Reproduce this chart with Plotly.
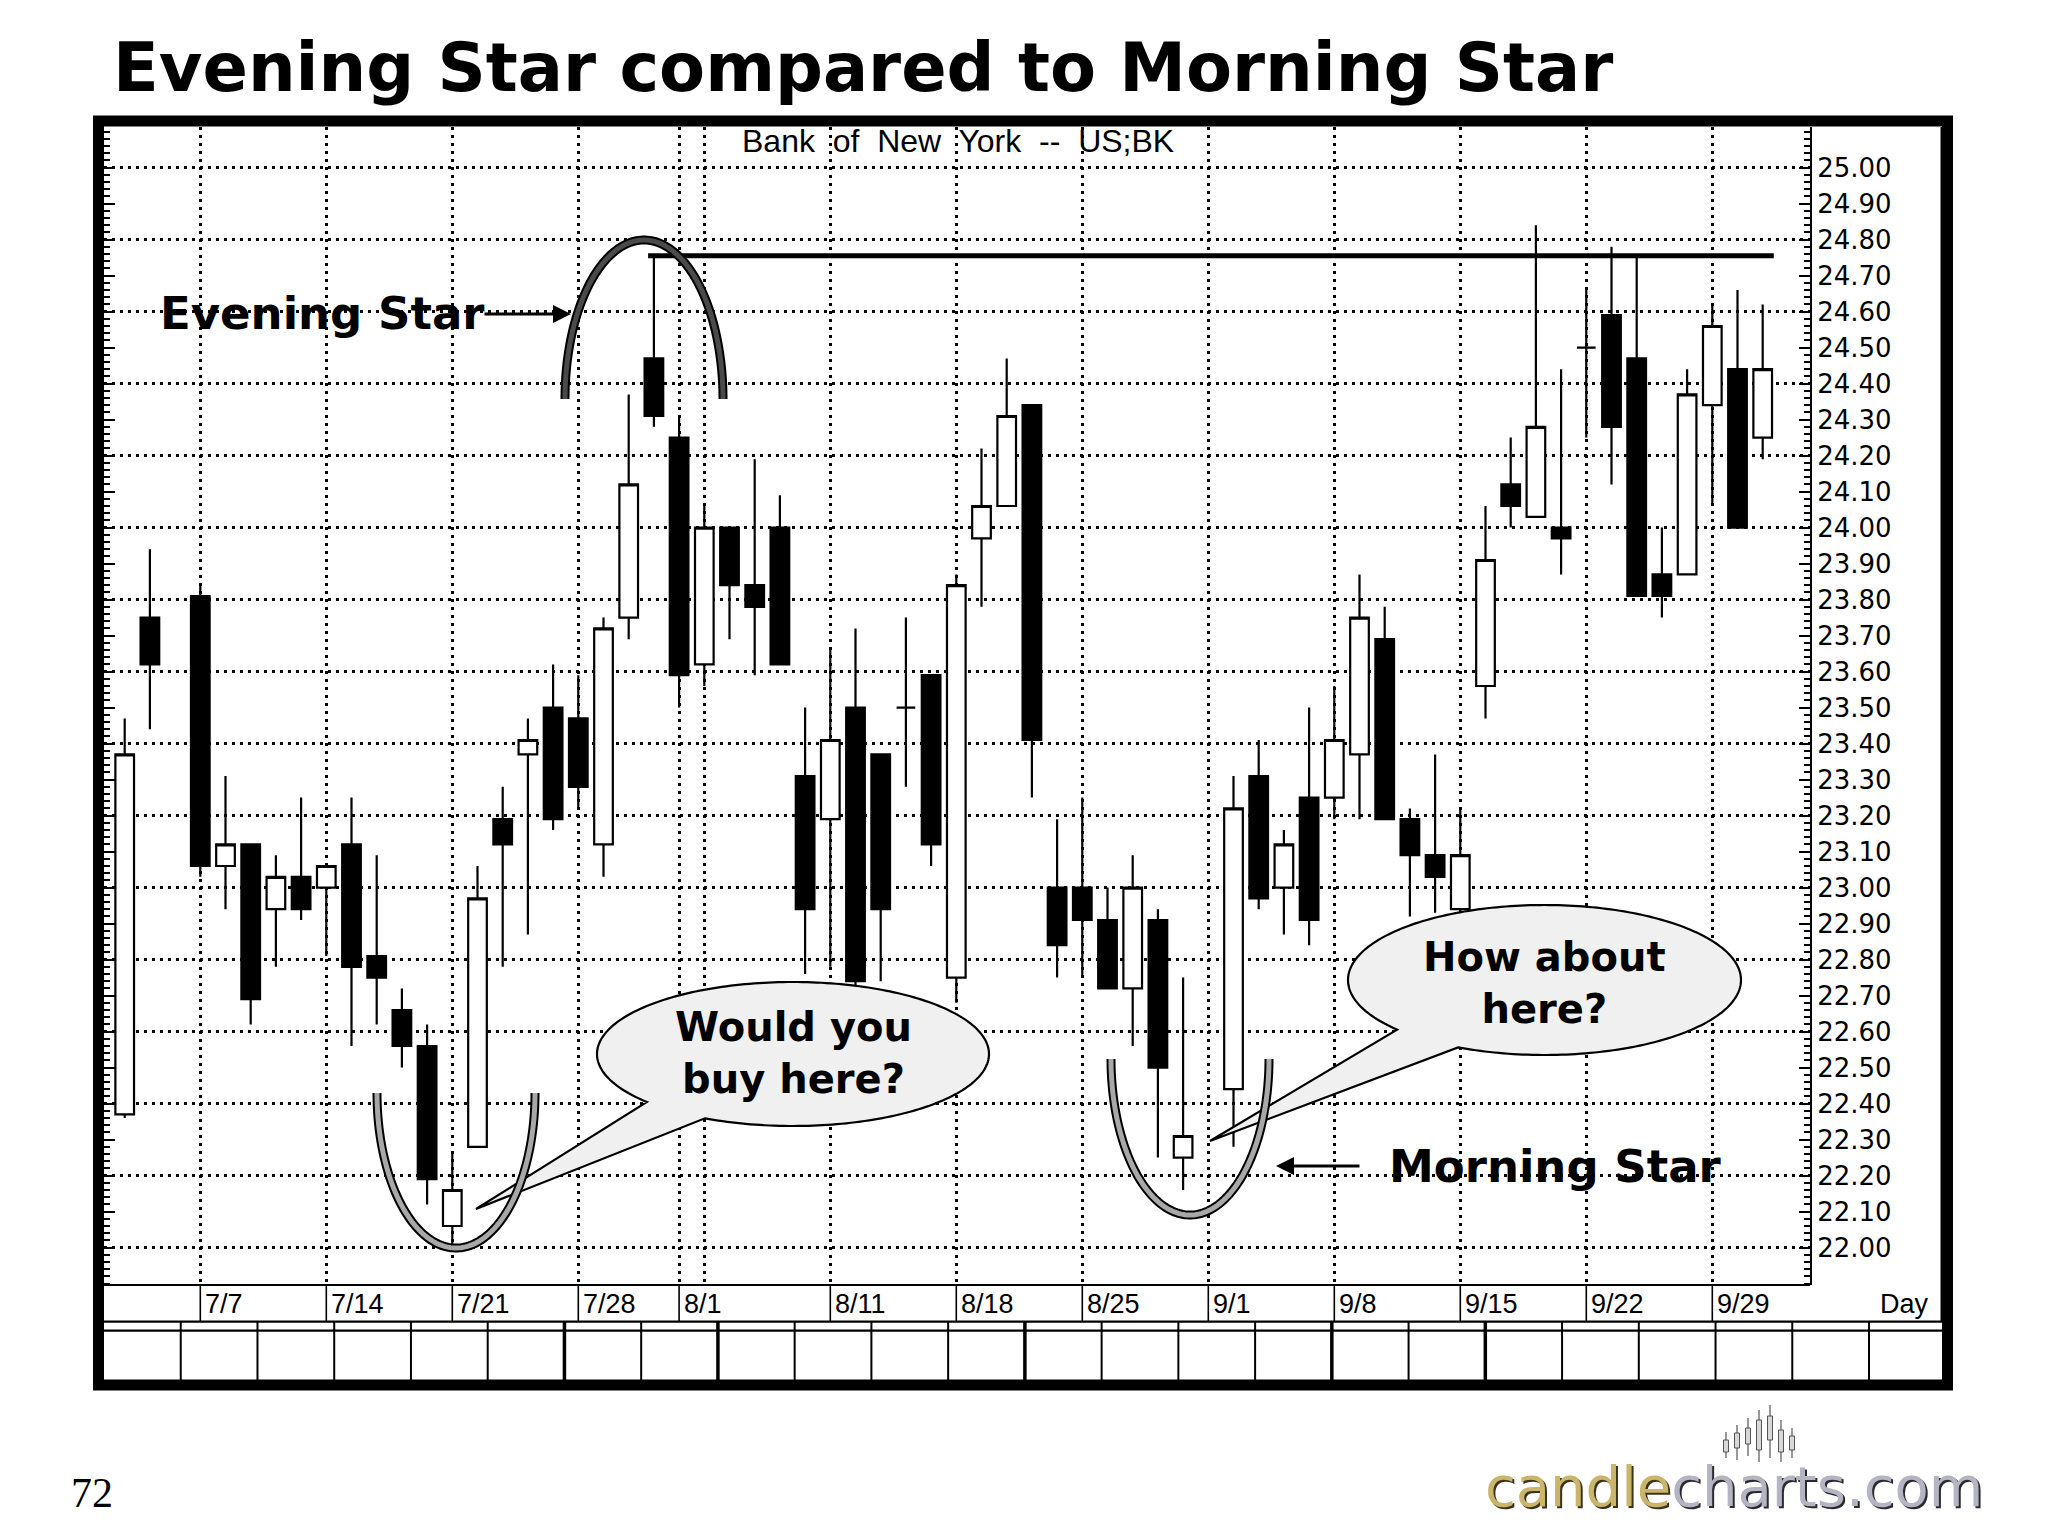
import numpy as np
import plotly.graph_objects as go

# ---------------- data ----------------
dates = ["2003-07-02", "2003-07-03", "2003-07-07", "2003-07-08", "2003-07-09", "2003-07-10",
         "2003-07-11", "2003-07-14", "2003-07-15", "2003-07-16", "2003-07-17", "2003-07-18",
         "2003-07-21", "2003-07-22", "2003-07-23", "2003-07-24", "2003-07-25", "2003-07-28",
         "2003-07-29", "2003-07-30", "2003-07-31", "2003-08-01", "2003-08-04", "2003-08-05",
         "2003-08-06", "2003-08-07", "2003-08-08", "2003-08-11", "2003-08-12", "2003-08-13",
         "2003-08-14", "2003-08-15", "2003-08-18", "2003-08-19", "2003-08-20", "2003-08-21",
         "2003-08-22", "2003-08-25", "2003-08-26", "2003-08-27", "2003-08-28", "2003-08-29",
         "2003-09-02", "2003-09-03", "2003-09-04", "2003-09-05", "2003-09-08", "2003-09-09",
         "2003-09-10", "2003-09-11", "2003-09-12", "2003-09-15", "2003-09-16", "2003-09-17",
         "2003-09-18", "2003-09-19", "2003-09-22", "2003-09-23", "2003-09-24", "2003-09-25",
         "2003-09-26", "2003-09-29", "2003-09-30", "2003-10-01"]
opens = [22.37, 23.75, 23.81, 23.06, 23.12, 22.94, 23.03, 23.00, 23.12, 22.81, 22.66, 22.56,
         22.06, 22.28, 23.19, 23.37, 23.50, 23.47, 23.12, 23.75, 24.47, 24.25, 23.62, 24.00,
         23.84, 24.00, 23.31, 23.19, 23.50, 23.37, 23.50, 23.59, 22.75, 23.97, 24.06, 24.34,
         23.00, 23.00, 22.91, 22.72, 22.91, 22.25, 22.44, 23.31, 23.00, 23.25, 23.25, 23.37,
         23.69, 23.19, 23.09, 22.94, 23.56, 24.12, 24.03, 24.00, 24.50, 24.59, 24.47, 23.87,
         23.87, 24.34, 24.44, 24.25]
highs = [23.47, 23.94, 23.84, 23.31, 23.12, 23.09, 23.25, 23.06, 23.25, 23.09, 22.72, 22.62,
         22.26, 23.06, 23.28, 23.47, 23.62, 23.59, 23.75, 24.37, 24.755, 24.31, 24.06, 24.00,
         24.19, 24.09, 23.50, 23.66, 23.72, 23.37, 23.75, 23.59, 23.87, 24.22, 24.47, 24.34,
         23.19, 23.25, 23.00, 23.09, 22.94, 22.75, 23.31, 23.41, 23.16, 23.50, 23.56, 23.87,
         23.78, 23.22, 23.37, 23.22, 24.06, 24.25, 24.84, 24.44, 24.66, 24.78, 24.75, 24.00,
         24.44, 24.62, 24.66, 24.62]
lows = [22.36, 23.44, 23.03, 22.94, 22.62, 22.78, 22.91, 22.81, 22.56, 22.62, 22.50, 22.12,
        22.01, 22.28, 22.78, 22.87, 23.16, 23.22, 23.03, 23.69, 24.28, 23.50, 23.56, 23.69,
        23.59, 23.62, 22.76, 22.78, 22.72, 22.74, 23.28, 23.06, 22.68, 23.78, 24.06, 23.25,
        22.75, 22.75, 22.72, 22.56, 22.25, 22.16, 22.28, 22.94, 22.87, 22.84, 23.19, 23.19,
        23.19, 22.92, 22.93, 22.93, 23.47, 24.00, 24.03, 23.87, 24.25, 24.12, 23.81, 23.75,
        23.87, 24.06, 24.00, 24.19]
closes = [23.37, 23.62, 23.06, 23.12, 22.69, 23.03, 22.94, 23.06, 22.78, 22.75, 22.56, 22.19,
          22.16, 22.97, 23.12, 23.41, 23.19, 23.28, 23.72, 24.12, 24.31, 23.59, 24.00, 23.84,
          23.78, 23.62, 22.94, 23.41, 22.74, 22.94, 23.50, 23.12, 23.84, 24.06, 24.31, 23.41,
          22.84, 22.91, 22.72, 23.00, 22.50, 22.31, 23.22, 22.97, 23.12, 22.91, 23.41, 23.75,
          23.19, 23.09, 23.03, 23.09, 23.91, 24.06, 24.28, 23.97, 24.50, 24.28, 23.81, 23.81,
          24.37, 24.56, 24.00, 24.44]

grid_dates = ["2003-07-07", "2003-07-14", "2003-07-21", "2003-07-28", "2003-08-01", "2003-08-04",
              "2003-08-11", "2003-08-18", "2003-08-25", "2003-09-01", "2003-09-08", "2003-09-15",
              "2003-09-22", "2003-09-29"]
grid_labels = ["7/7", "7/14", "7/21", "7/28", "8/1", "", "8/11", "8/18", "8/25", "9/1",
               "9/8", "9/15", "9/22", "9/29"]

price_ticks = [round(22.0 + 0.1 * i, 2) for i in range(31)]
price_grid = [round(22.0 + 0.2 * i, 2) for i in range(16)]

TITLE = "Evening Star compared to Morning Star"
SUBTITLE = "Bank\u00a0 of\u00a0 New\u00a0 York\u00a0 --\u00a0 US;BK"
EVENING_DATE = "2003-07-31"

START = "2003-07-01"


def slot(d):
    return int(np.busday_count(START, d))


x_slots = [slot(d) for d in dates]
grid_slots = [slot(d) for d in grid_dates]

# ---------------- geometry (page pixels) ----------------
OFF = 8                                # default body margin of the html page
W, H = 2048 - OFF, 1536 - OFF
PL, PR, PT, PB = 104, 1810, 127, 1285  # plot area, page coordinates
SLOT0_PX, SLOT_W = 99.5, 25.2          # pixel position of slot 0, pixels per slot
P25_PX, PX_PER_1 = 167.6, 360.0        # pixel of price 25.00, pixels per 1.00

x_range = [(PL - SLOT0_PX) / SLOT_W, (PR - SLOT0_PX) / SLOT_W]
y_range = [25 - (PB - P25_PX) / PX_PER_1, 25 - (PT - P25_PX) / PX_PER_1]


def px(x):
    return (x - PL) / (PR - PL)


def py(y):
    return (PB - y) / (PB - PT)


def path_from(pts, close=False):
    s = "M " + " L ".join(f"{px(a):.5f},{py(b):.5f}" for a, b in pts)
    return s + (" Z" if close else "")


fig = go.Figure()

fig.add_trace(go.Candlestick(
    x=x_slots, open=opens, high=highs, low=lows, close=closes,
    increasing=dict(fillcolor="white", line=dict(color="black", width=2.2)),
    decreasing=dict(fillcolor="black", line=dict(color="black", width=2.2)),
    whiskerwidth=0, hoverinfo="skip", showlegend=False,
))
# invisible trace holding the secondary (grid) axis
fig.add_trace(go.Scatter(x=[x_slots[0]], y=[price_grid[0]], yaxis="y2", mode="markers",
                         marker=dict(size=1, opacity=0), hoverinfo="skip", showlegend=False))

shapes = []
annos = []

# white patch behind the chart caption (hides grid, below candles)
shapes.append(dict(type="rect", xref="paper", yref="paper", x0=px(722), x1=px(1195),
                   y0=py(158), y1=py(PT), fillcolor="white", line=dict(width=0), layer="between"))

# resistance line at the evening star high
ev_i = dates.index(EVENING_DATE)
shapes.append(dict(type="line", xref="x", yref="y", x0=x_slots[ev_i] - 0.23,
                   x1=x_slots[-1] + 0.44, y0=highs[ev_i], y1=highs[ev_i],
                   line=dict(color="black", width=5), layer="above"))


# speech bubbles (ellipse + wedge tail)
def bubble(cx, cy, rx, ry, tA, tB, tip):
    ts = np.radians(np.linspace(tB, tA - 360, 240))
    pts = [(cx + rx * np.cos(t), cy + ry * np.sin(t)) for t in ts]
    pts.append(tip)
    shapes.append(dict(type="path", xref="paper", yref="paper", path=path_from(pts, True),
                       fillcolor="#f0f0f0", line=dict(color="black", width=2.2), layer="above"))


bubble(793, 1054, 196, 72, 138.2, 116.7, (476, 1209))
bubble(1544.5, 980, 196.5, 75, 138.6, 116.1, (1210, 1141))


# arcs around the stars
def arc(cx, cy, rx, ry, upper, inner):
    ts = np.radians(np.linspace(180, 0, 120))
    sgn = -1 if upper else 1
    pts = [(cx + rx * np.cos(t), cy + sgn * ry * np.sin(t)) for t in ts]
    p = path_from(pts)
    shapes.append(dict(type="path", xref="paper", yref="paper", path=p,
                       line=dict(color="black", width=9), layer="above"))
    shapes.append(dict(type="path", xref="paper", yref="paper", path=p,
                       line=dict(color=inner, width=5), layer="above"))


arc(644, 399, 79, 159, True, "#4a4a4a")
arc(456, 1093, 79, 155, False, "#a8a8a8")
arc(1190, 1059, 79, 156, False, "#a8a8a8")

# frame pieces
shapes.append(dict(type="line", xref="paper", yref="paper", x0=px(PL), x1=px(PR),
                   y0=py(PB), y1=py(PB), line=dict(color="black", width=2), layer="above"))
for yy in (1321.7, 1330.7):
    shapes.append(dict(type="line", xref="paper", yref="paper", x0=px(PL), x1=px(1943),
                       y0=py(yy), y1=py(yy), line=dict(color="black", width=2.2), layer="above"))
shapes.append(dict(type="line", xref="paper", yref="paper", x0=px(1941.5), x1=px(1941.5),
                   y0=py(PT), y1=py(1321.7), line=dict(color="black", width=2), layer="above"))
thick_cols = {6, 8, 12, 16, 18}
for k in range(1, 24):
    xx = PL + 76.74 * k
    shapes.append(dict(type="line", xref="paper", yref="paper", x0=px(xx), x1=px(xx),
                       y0=py(1321.7), y1=py(1380), layer="above",
                       line=dict(color="black", width=3.5 if k in thick_cols else 2)))
# outer thick border
shapes.append(dict(type="rect", xref="paper", yref="paper", x0=px(98.5), x1=px(1947.5),
                   y0=py(121), y1=py(1385), line=dict(color="black", width=11), layer="above"))

# small candle glyph of the logo
glyph = [(1726, 1432, 1458, 1440, 1452), (1737, 1425, 1460, 1433, 1448), (1748, 1418, 1456, 1428, 1444),
         (1759, 1410, 1462, 1420, 1450), (1770, 1405, 1458, 1416, 1440), (1781, 1420, 1462, 1430, 1452),
         (1792, 1428, 1458, 1436, 1450)]
for gx, gt, gb, bt, bb in glyph:
    shapes.append(dict(type="line", xref="paper", yref="paper", x0=px(gx), x1=px(gx),
                       y0=py(gt), y1=py(gb), line=dict(color="#555555", width=1.2), layer="above"))
    shapes.append(dict(type="rect", xref="paper", yref="paper", x0=px(gx - 2.5), x1=px(gx + 2.5),
                       y0=py(bt), y1=py(bb), fillcolor="#d8d8d8",
                       line=dict(color="#555555", width=1), layer="above"))

# date labels and the cell lines under them
for s, lab in zip(grid_slots, grid_labels):
    if not lab:
        continue
    shapes.append(dict(type="line", xref="x", yref="paper", x0=s, x1=s, y0=py(PB), y1=py(1321.7),
                       line=dict(color="black", width=1.6), layer="above"))
    annos.append(dict(x=s, y=py(1304), xref="x", yref="paper", text=lab, showarrow=False,
                      xanchor="left", yanchor="middle", xshift=3,
                      font=dict(family="Liberation Sans, Arial", size=27, color="black")))
annos.append(dict(x=px(1878), y=py(1304), xref="paper", yref="paper", text="Day", showarrow=False,
                  xanchor="left", yanchor="middle",
                  font=dict(family="Liberation Sans, Arial", size=27, color="black")))

# titles
annos.append(dict(x=px(111), y=py(68), xref="paper", yref="paper", text=f"<b>{TITLE}</b>",
                  showarrow=False, xanchor="left", yanchor="middle",
                  font=dict(family="DejaVu Sans", size=67, color="black")))
annos.append(dict(x=px(958), y=py(141), xref="paper", yref="paper", text=SUBTITLE,
                  showarrow=False, xanchor="center", yanchor="middle",
                  font=dict(family="Liberation Sans, Arial", size=32, color="black")))

# pattern labels + arrows
annos.append(dict(x=px(158), y=py(314), xref="paper", yref="paper", text="<b>Evening Star</b>",
                  showarrow=False, xanchor="left", yanchor="middle",
                  font=dict(family="DejaVu Sans", size=45, color="black")))
annos.append(dict(x=px(571), y=py(314), xref="paper", yref="paper", text="", showarrow=True,
                  ax=-88, ay=0, arrowhead=2, arrowsize=1.2, arrowwidth=3, arrowcolor="black"))
annos.append(dict(x=px(1387), y=py(1166), xref="paper", yref="paper", text="<b>Morning Star</b>",
                  showarrow=False, xanchor="left", yanchor="middle",
                  font=dict(family="DejaVu Sans", size=45, color="black")))
annos.append(dict(x=px(1276), y=py(1166), xref="paper", yref="paper", text="", showarrow=True,
                  ax=85, ay=0, arrowhead=2, arrowsize=1.2, arrowwidth=3, arrowcolor="black"))

# bubble texts
annos.append(dict(x=px(793), y=py(1053), xref="paper", yref="paper",
                  text="<b>Would you<br>buy here?</b>", showarrow=False, align="center",
                  xanchor="center", yanchor="middle",
                  font=dict(family="DejaVu Sans", size=40, color="black")))
annos.append(dict(x=px(1544), y=py(983), xref="paper", yref="paper",
                  text="<b>How about<br>here?</b>", showarrow=False, align="center",
                  xanchor="center", yanchor="middle",
                  font=dict(family="DejaVu Sans", size=40, color="black")))

# page number and logo
annos.append(dict(x=px(92), y=py(1493), xref="paper", yref="paper", text="72", showarrow=False,
                  xanchor="center", yanchor="middle",
                  font=dict(family="Liberation Serif, Times New Roman", size=42, color="black")))
logo = "<span style='color:{c1}'>candle</span><span style='color:{c2}'>charts.com</span>"
annos.append(dict(x=px(1985), y=py(1486), xref="paper", yref="paper", xanchor="right",
                  yanchor="middle", text=logo.format(c1="#3a3320", c2="#2a2a30"), showarrow=False,
                  xshift=2, yshift=-2, font=dict(family="DejaVu Sans", size=56)))
annos.append(dict(x=px(1985), y=py(1486), xref="paper", yref="paper", xanchor="right",
                  yanchor="middle", text=logo.format(c1="#cbb56a", c2="#b4b4c2"), showarrow=False,
                  font=dict(family="DejaVu Sans", size=56)))

grid_dash = "3px,5px"
fig.update_layout(
    width=W, height=H, autosize=False,
    margin=dict(l=PL - OFF, r=W - (PR - OFF), t=PT - OFF, b=H - (PB - OFF), pad=0),
    paper_bgcolor="white", plot_bgcolor="white",
    showlegend=False, hovermode=False,
    boxgap=0.26, boxgroupgap=0,
    xaxis=dict(range=x_range, type="linear", tickvals=grid_slots, showticklabels=False, ticks="",
               showgrid=True, gridcolor="black", gridwidth=2.5, griddash=grid_dash,
               zeroline=False, showline=False, rangeslider=dict(visible=False), fixedrange=True),
    yaxis=dict(range=y_range, side="right", tickvals=price_ticks,
               ticktext=[f"{v:.2f}" for v in price_ticks],
               ticks="inside", ticklen=11, tickwidth=2, tickcolor="black",
               minor=dict(dtick=0.02, ticks="inside", ticklen=6, tickwidth=1.5, tickcolor="black"),
               showgrid=False, zeroline=False, showline=True, linecolor="black", linewidth=2,
               mirror="ticks", fixedrange=True,
               tickfont=dict(family="DejaVu Sans", size=26, color="black")),
    yaxis2=dict(range=y_range, overlaying="y", side="right", tickvals=price_grid,
                showticklabels=False, ticks="", showgrid=True, gridcolor="black", gridwidth=2.5,
                griddash=grid_dash, zeroline=False, showline=False, fixedrange=True),
    shapes=shapes, annotations=annos,
)

fig.write_html("out.html")
